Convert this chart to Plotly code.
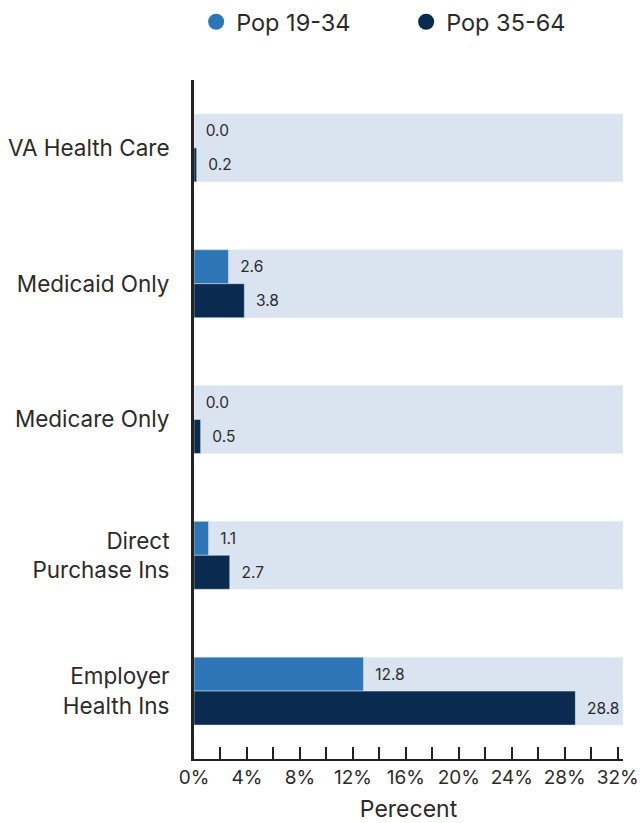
import plotly.graph_objects as go

categories = ["VA Health Care", "Medicaid Only", "Medicare Only", "Direct<br>Purchase Ins", "Employer<br>Health Ins"]
pop_19_34 = [0.0, 2.6, 0.0, 1.1, 12.8]
pop_35_64 = [0.2, 3.8, 0.5, 2.7, 28.8]
background = [32.4, 32.4, 32.4, 32.4, 32.4]
tick_vals = [0, 4, 8, 12, 16, 20, 24, 28, 32]
tick_text = ["0%", "4%", "8%", "12%", "16%", "20%", "24%", "28%", "32%"]

c1 = "#2e75b6"
c2 = "#0b2a4f"
bg = "#dae4f0"
txt = "#2b2b2b"
font = "Inter"

fig = go.Figure()
fig.add_trace(go.Bar(y=categories, x=background, orientation="h", marker_color=bg,
                     offset=-0.25, width=0.5, showlegend=False, hoverinfo="skip"))
fig.add_trace(go.Bar(y=categories, x=pop_19_34, orientation="h", marker_color=c1,
                     offset=-0.25, width=0.25, name="Pop 19-34", showlegend=False,
                     texttemplate="  %{x:.1f}", textposition="outside",
                     textfont=dict(size=15.5, color=txt, family=font), cliponaxis=False))
fig.add_trace(go.Bar(y=categories, x=pop_35_64, orientation="h", marker_color=c2,
                     offset=0, width=0.25, name="Pop 35-64", showlegend=False,
                     texttemplate="  %{x:.1f}", textposition="outside",
                     textfont=dict(size=15.5, color=txt, family=font), cliponaxis=False))
for name, col in [("Pop 19-34", c1), ("Pop 35-64", c2)]:
    fig.add_trace(go.Scatter(x=[None], y=[None], mode="markers", name=name,
                             marker=dict(symbol="circle", size=23, color=col)))

fig.update_layout(
    width=640, height=823,
    barmode="overlay",
    plot_bgcolor="white", paper_bgcolor="white",
    margin=dict(l=194, r=17, t=80, b=64, autoexpand=False),
    font=dict(family=font, color=txt),
    legend=dict(orientation="h", x=0.005, xanchor="left", y=1.0855, yanchor="middle",
                font=dict(size=23.5, color=txt, family=font), itemwidth=30,
                entrywidth=165, traceorder="normal"),
    xaxis=dict(range=[0, 32.4], tickvals=tick_vals, ticktext=tick_text,
               ticks="inside", ticklen=12, tickwidth=2, tickcolor="#222",
               minor=dict(dtick=2, ticks="inside", ticklen=12, tickwidth=2, tickcolor="#222"),
               showline=True, linecolor="#222", linewidth=2, showgrid=False, zeroline=False,
               tickfont=dict(size=19, color=txt, family=font),
               title=dict(text="Perecent", font=dict(size=23, color=txt, family=font), standoff=16)),
    yaxis=dict(categoryorder="array", categoryarray=categories, autorange="reversed",
               showline=True, linecolor="#222", linewidth=3, showgrid=False, ticks="",
               ticklabelstandoff=17,
               tickfont=dict(size=22.5, color=txt, family=font)),
)

fig.write_html("out.html", config={"displayModeBar": False},
               post_script="document.body.style.margin='0';document.body.style.overflow='hidden';")
